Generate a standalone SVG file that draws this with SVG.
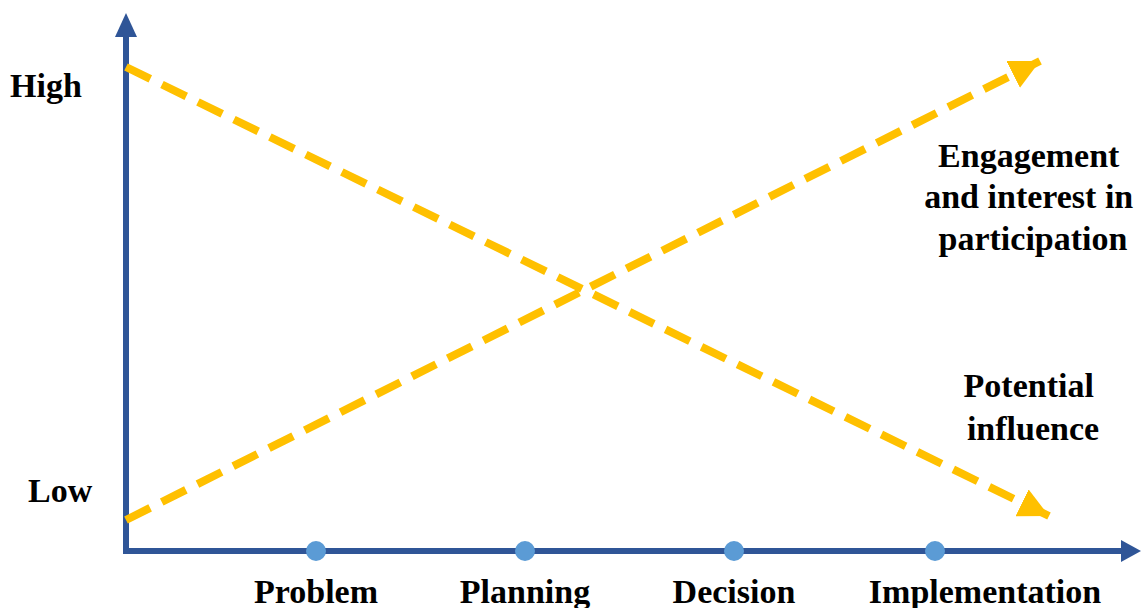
<svg xmlns="http://www.w3.org/2000/svg" width="1142" height="608" viewBox="0 0 1142 608">
  <defs>
    <style>
      .axis { stroke: #2F5597; stroke-width: 6; fill: none; }
      .axhead { fill: #2F5597; }
      .trend { stroke: #FFC000; stroke-width: 8; fill: none; stroke-dasharray: 27 13; }
      .dot { fill: #5B9BD5; }
      .lbl { font-family: "Liberation Serif", "Times New Roman", serif; font-weight: bold; font-size: 34px; fill: #000; }
    </style>
    <marker id="ahY" viewBox="0 0 30 30" markerWidth="30" markerHeight="30" refX="30" refY="15" orient="auto" markerUnits="userSpaceOnUse">
      <path d="M0,0 L30,15 L0,30 z" fill="#FFC000"/>
    </marker>
  </defs>
  <rect width="1142" height="608" fill="#ffffff"/>

  <g id="axes">
    <line class="axis" x1="126" y1="554" x2="126" y2="30"/>
    <polygon class="axhead" points="126,13 115,37 137,37"/>
    <line class="axis" x1="123" y1="551" x2="1125" y2="551"/>
    <polygon class="axhead" points="1141,551 1121,540 1121,562"/>
  </g>

  <g id="connectors">
    <path class="trend" d="M126,67 L1049,516" marker-end="url(#ahY)"/>
    <path class="trend" d="M126,520 L1040,61" marker-end="url(#ahY)"/>
  </g>

  <g id="stage-dots">
    <circle class="dot" cx="316" cy="551" r="10"/>
    <circle class="dot" cx="525" cy="551" r="10"/>
    <circle class="dot" cx="734" cy="551" r="10"/>
    <circle class="dot" cx="935" cy="551" r="10"/>
  </g>

  <g id="label-high"><text class="lbl" x="10" y="97">High</text></g>
  <g id="label-low"><text class="lbl" x="28" y="502">Low</text></g>

  <g id="label-engagement">
    <text class="lbl" text-anchor="middle">
      <tspan x="1033" y="167">Engagement</tspan>
      <tspan x="1033" y="208">and interest in</tspan>
      <tspan x="1033" y="250">participation</tspan>
    </text>
  </g>
  <g id="label-influence">
    <text class="lbl" text-anchor="middle">
      <tspan x="1033" y="397">Potential</tspan>
      <tspan x="1033" y="440">influence</tspan>
    </text>
  </g>

  <g id="stage-problem"><text class="lbl" x="316" y="603" text-anchor="middle">Problem</text></g>
  <g id="stage-planning"><text class="lbl" x="525" y="603" text-anchor="middle">Planning</text></g>
  <g id="stage-decision"><text class="lbl" x="734" y="603" text-anchor="middle">Decision</text></g>
  <g id="stage-implementation"><text class="lbl" x="985" y="603" text-anchor="middle">Implementation</text></g>
</svg>
